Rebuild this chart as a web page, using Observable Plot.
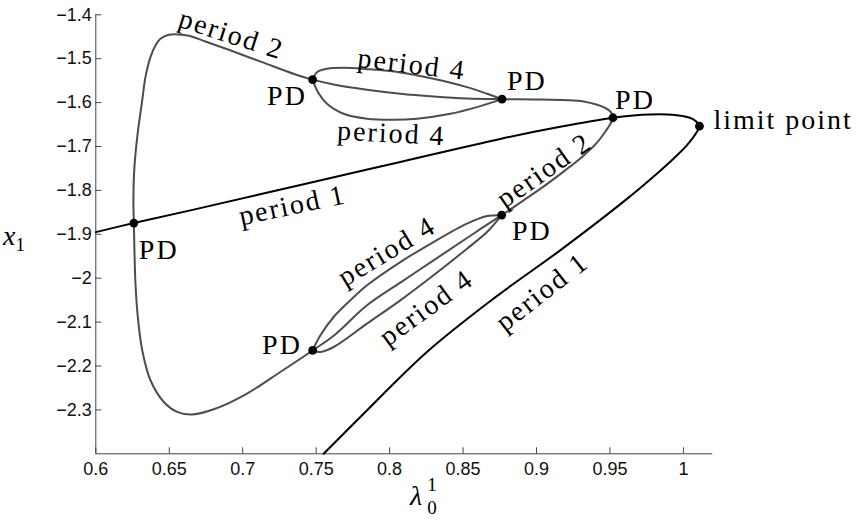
<!DOCTYPE html>
<html>
<head>
<meta charset="utf-8">
<script src="https://cdn.jsdelivr.net/npm/d3@7"></script>
<script src="https://cdn.jsdelivr.net/npm/@observablehq/plot@0.6"></script>
<style>
  html, body { margin: 0; padding: 0; background: #fff; }
  #chart { width: 862px; height: 523px; }
</style>
</head>
<body>
<div id="chart"></div>
<script>
// ---------- data ----------
const xDomain = [0.6, 1.02];
const yDomain = [-2.4, -1.4];
const xTicks = [0.6, 0.65, 0.7, 0.75, 0.8, 0.85, 0.9, 0.95, 1];
const yTicks = [-2.3, -2.2, -2.1, -2, -1.9, -1.8, -1.7, -1.6, -1.5, -1.4];

// period 1 branch (black): left edge -> PD -> PD -> limit point -> lower branch
const period1 = [
  [0.6, -1.895], [0.6259, -1.8744], [0.6644, -1.8455], [0.7393, -1.7877],
  [0.8073, -1.7351], [0.8753, -1.6827], [0.9161, -1.6552], [0.952, -1.6345],
  [0.966, -1.6292], [0.9773, -1.627], [0.9887, -1.627], [1.0, -1.6308],
  [1.0068, -1.6383], [1.0109, -1.6536], [1.0091, -1.6672], [1.0023, -1.6975],
  [0.9932, -1.7278], [0.9819, -1.7619], [0.9603, -1.8227], [0.9161, -1.9365],
  [0.8707, -2.0465], [0.8254, -2.168], [0.7801, -2.316], [0.7551, -2.4]
];

// period 2 closed branch (grey loop through the PD points)
const period2 = [
  [0.952, -1.6345], [0.9508, -1.6224], [0.9467, -1.6122], [0.9413, -1.6049],
  [0.932, -1.5974], [0.9207, -1.5944], [0.898, -1.5928], [0.8765, -1.5921],
  [0.8527, -1.5905], [0.8299, -1.586], [0.8073, -1.5798], [0.7846, -1.5707],
  [0.7619, -1.5587], [0.7476, -1.5477], [0.7359, -1.5359], [0.7132, -1.5079],
  [0.6905, -1.4797], [0.6746, -1.4608], [0.6633, -1.4478], [0.6565, -1.4448],
  [0.6497, -1.4455], [0.644, -1.4546], [0.6406, -1.4699], [0.6372, -1.4965],
  [0.6338, -1.542], [0.6316, -1.5951], [0.6285, -1.6702], [0.6263, -1.7469],
  [0.6256, -1.8227], [0.6259, -1.8744], [0.6263, -1.9365], [0.627, -2.0123],
  [0.6286, -2.0884], [0.6316, -2.1642], [0.6372, -2.2325], [0.6463, -2.2819],
  [0.6554, -2.3046], [0.6651, -2.3105], [0.6803, -2.2985], [0.703, -2.2627],
  [0.7256, -2.2136], [0.7476, -2.1646], [0.7619, -2.1312], [0.7846, -2.0617],
  [0.8073, -2.0101], [0.8299, -1.9593], [0.8527, -1.9085], [0.8663, -1.878],
  [0.8763, -1.8564], [0.8912, -1.8227], [0.9059, -1.7886], [0.9195, -1.7544],
  [0.9318, -1.7214], [0.9413, -1.6907], [0.9474, -1.6634], [0.9508, -1.6452]
];

// period 4 loop between the upper PD points
const period4TopA = [
  [0.7476, -1.5477], [0.7506, -1.5307], [0.7574, -1.5229], [0.7687, -1.5206],
  [0.7846, -1.5238], [0.8073, -1.5313], [0.8299, -1.5457], [0.8527, -1.5648],
  [0.8663, -1.5798], [0.8765, -1.5921]
];
const period4TopB = [
  [0.7476, -1.5477], [0.7506, -1.5723], [0.7574, -1.6026], [0.7687, -1.6254],
  [0.7846, -1.6367], [0.8027, -1.639], [0.8186, -1.6367], [0.8413, -1.6254],
  [0.8595, -1.6103], [0.8765, -1.5921]
];
// period 4 loop between the lower PD points
const period4BottomA = [
  [0.7476, -2.1646], [0.7529, -2.13], [0.7619, -2.0884], [0.7733, -2.0504],
  [0.7846, -2.0162], [0.8073, -1.9632], [0.8299, -1.9176], [0.8527, -1.8758],
  [0.8663, -1.8585], [0.8763, -1.8564]
];
const period4BottomB = [
  [0.7476, -2.1646], [0.7529, -2.168], [0.7619, -2.1567], [0.7846, -2.1034],
  [0.8073, -2.0504], [0.8299, -1.9934], [0.8527, -1.9327], [0.8663, -1.8949],
  [0.8763, -1.8564]
];

// special points
const pdPoints = [
  [0.6259, -1.8744], [0.7476, -2.1646], [0.8763, -1.8564],
  [0.7476, -1.5477], [0.8765, -1.5921], [0.952, -1.6345]
];
const limitPoints = [[1.0109, -1.6536]];

// annotations
const branchLabels = [
  {x: 0.6923, y: -1.4448, text: "period 2", rotate: 18},
  {x: 0.8151, y: -1.5131, text: "period 4", rotate: 7},
  {x: 0.8012, y: -1.6702, text: "period 4", rotate: 3},
  {x: 0.7338, y: -1.834, text: "period 1", rotate: -12},
  {x: 0.9052, y: -1.7544, text: "period 2", rotate: -35},
  {x: 0.7981, y: -1.9388, text: "period 4", rotate: -31},
  {x: 0.825, y: -2.0674, text: "period 4", rotate: -36},
  {x: 0.9037, y: -2.0315, text: "period 1", rotate: -38}
];
const pointLabels = [
  {x: 0.6293, y: -1.9554, text: "PD"},
  {x: 0.7132, y: -2.1717, text: "PD"},
  {x: 0.8833, y: -1.9138, text: "PD"},
  {x: 0.7166, y: -1.6065, text: "PD"},
  {x: 0.8799, y: -1.5723, text: "PD"},
  {x: 0.9535, y: -1.614, text: "PD"},
  {x: 1.0204, y: -1.6595, text: "limit point"}
];

// ---------- chart ----------
const fmt = d => String(d).replace("-", "\u2212");
const grey = "#4d4d4d";
const axisColor = "#444";
const serif = "Liberation Serif";
const px = d => d[0], py = d => d[1];

const svg = Plot.plot({
  width: 862,
  height: 523,
  marginLeft: 95.3,
  marginRight: 149.7,
  marginTop: 14.3,
  marginBottom: 69.7,
  x: {domain: xDomain},
  y: {domain: yDomain},
  style: {background: "#fff", fontFamily: "Liberation Sans", fontSize: "18px", color: "#000"},
  marks: [
    Plot.ruleX([xDomain[0]], {y1: yDomain[0], y2: yDomain[1], stroke: axisColor}),
    Plot.ruleY([yDomain[0]], {x1: xDomain[0], x2: xDomain[1], stroke: axisColor}),
    Plot.axisX({ticks: xTicks, tickSize: 6, dy: -6, tickFormat: () => "", label: null, stroke: axisColor}),
    Plot.axisY({ticks: yTicks, tickSize: 6, dx: 6, tickFormat: () => "", label: null, stroke: axisColor}),
    Plot.axisX({ticks: xTicks, tickSize: 0, tickPadding: 8, tickFormat: fmt, label: null, fill: "#111"}),
    Plot.axisY({ticks: yTicks, tickSize: 0, tickPadding: 4, tickFormat: fmt, label: null, fill: "#111"}),

    Plot.line(period4TopA, {x: px, y: py, stroke: grey, strokeWidth: 2, curve: "catmull-rom"}),
    Plot.line(period4TopB, {x: px, y: py, stroke: grey, strokeWidth: 2, curve: "catmull-rom"}),
    Plot.line(period4BottomA, {x: px, y: py, stroke: grey, strokeWidth: 2, curve: "catmull-rom"}),
    Plot.line(period4BottomB, {x: px, y: py, stroke: grey, strokeWidth: 2, curve: "catmull-rom"}),
    Plot.line(period2, {x: px, y: py, stroke: grey, strokeWidth: 2, curve: "catmull-rom-closed"}),
    Plot.line(period1, {x: px, y: py, stroke: "#000", strokeWidth: 2, curve: "catmull-rom"}),

    Plot.dot(pdPoints, {x: px, y: py, r: 4.4, fill: "#000", stroke: null}),
    Plot.dot(limitPoints, {x: px, y: py, r: 4.4, fill: "#000", stroke: null}),

    Plot.text(branchLabels, {x: "x", y: "y", text: "text", rotate: "rotate", fontFamily: serif, fontSize: 28, fill: "#000", textAnchor: "middle", lineAnchor: "middle"}),
    Plot.text(pointLabels, {x: "x", y: "y", text: "text", fontFamily: serif, fontSize: 28, fill: "#000", textAnchor: "start", lineAnchor: "bottom"})
  ]
});

const s = d3.select(svg);
s.selectAll('g[font-family="Liberation Serif"]').attr("letter-spacing", "2px");

// axis titles with sub/superscripts
const yl = s.append("text").attr("x", 14).attr("y", 245)
  .attr("font-family", serif).attr("font-size", 28).attr("font-style", "italic").attr("fill", "#000");
yl.append("tspan").text("x");
yl.append("tspan").attr("font-style", "normal").attr("font-size", 19).attr("dy", 6).text("1");

s.append("text").attr("x", 416).attr("y", 505)
  .attr("font-family", serif).attr("font-size", 28).attr("font-style", "italic").attr("fill", "#000").text("λ");
s.append("text").attr("x", 432).attr("y", 491)
  .attr("font-family", serif).attr("font-size", 19).attr("fill", "#000").text("1");
s.append("text").attr("x", 432).attr("y", 514)
  .attr("font-family", serif).attr("font-size", 19).attr("fill", "#000").text("0");

document.getElementById("chart").appendChild(svg);
</script>
</body>
</html>
